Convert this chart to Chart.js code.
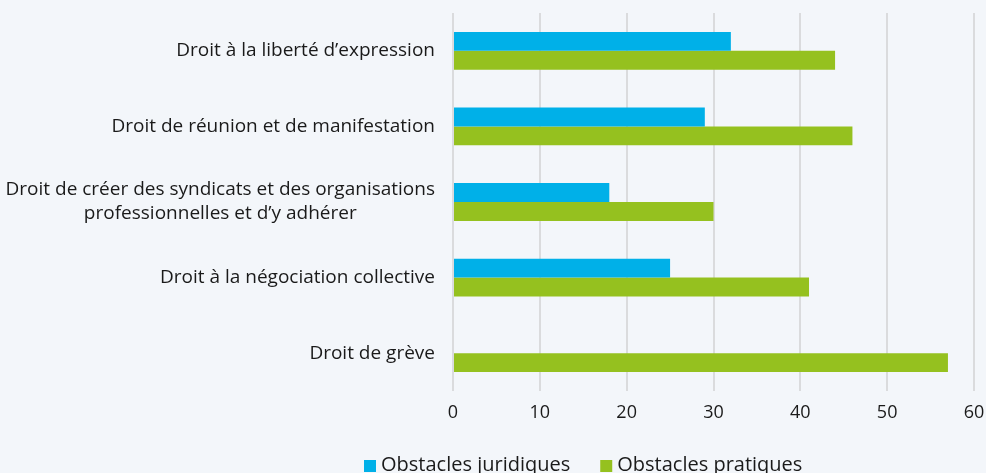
<!DOCTYPE html>
<html>
<head>
<meta charset="utf-8">
<script src="https://cdn.jsdelivr.net/npm/chart.js@4"></script>
<style>
  html, body { margin: 0; padding: 0; background: #f3f6fa; }
  #wrap { width: 986px; height: 473px; position: relative; }
</style>
</head>
<body>
<div id="wrap"><canvas id="c" width="986" height="473"></canvas></div>
<script>
const categories = [
  "Droit à la liberté d’expression",
  "Droit de réunion et de manifestation",
  ["Droit de créer des syndicats et des organisations", "professionnelles et d’y adhérer"],
  "Droit à la négociation collective",
  "Droit de grève"
];
const seriesNames = ["Obstacles juridiques", "Obstacles pratiques"];
const juridiques = [32, 29, 18, 25, 0];
const pratiques = [44, 46, 30, 41, 57];
const xTicks = [0, 10, 20, 30, 40, 50, 60];
const colors = ['#00b0e8', '#95c11f'];

const FONT = "'Open Sans', 'Noto Sans', sans-serif";
const TEXT = "#1a1a1a";

const bgPlugin = {
  id: 'bg',
  beforeDraw(chart) {
    const ctx = chart.ctx;
    ctx.save();
    ctx.fillStyle = '#f3f6fa';
    ctx.fillRect(0, 0, chart.width, chart.height);
    ctx.restore();
  }
};

const yLabelPlugin = {
  id: 'ylabels',
  afterDraw(chart) {
    const scale = chart.scales.y;
    const ctx = chart.ctx;
    ctx.save();
    ctx.font = "19px " + FONT;
    ctx.fillStyle = TEXT;
    ctx.textBaseline = 'middle';
    const right = chart.chartArea.left - 18;
    const lh = 24;
    chart.data.labels.forEach((lab, i) => {
      const y = scale.getPixelForTick(i);
      const lines = Array.isArray(lab) ? lab : [lab];
      if (lines.length === 1) {
        ctx.textAlign = 'right';
        ctx.fillText(lines[0], right, y);
      } else {
        const maxW = Math.max(...lines.map(l => ctx.measureText(l).width));
        const cx = right - maxW / 2;
        ctx.textAlign = 'center';
        const top = y - (lines.length - 1) * lh / 2;
        lines.forEach((l, k) => ctx.fillText(l, cx, top + k * lh));
      }
    });
    ctx.restore();
  }
};

const legendPlugin = {
  id: 'customLegend',
  afterDraw(chart) {
    const ctx = chart.ctx;
    ctx.save();
    ctx.font = "20px " + FONT;
    ctx.textBaseline = 'middle';
    ctx.textAlign = 'left';
    let x = 364;
    const y = 465;
    chart.data.datasets.forEach((ds, i) => {
      ctx.fillStyle = ds.backgroundColor;
      ctx.fillRect(x, y - 5, 12, 12);
      ctx.fillStyle = TEXT;
      ctx.fillText(ds.label, x + 17, y);
      x += 17 + ctx.measureText(ds.label).width + 30;
    });
    ctx.restore();
  }
};

new Chart(document.getElementById('c'), {
  type: 'bar',
  data: {
    labels: categories,
    datasets: [
      { label: seriesNames[0], data: juridiques, backgroundColor: colors[0], borderWidth: 0 },
      { label: seriesNames[1], data: pratiques, backgroundColor: colors[1], borderWidth: 0 }
    ]
  },
  options: {
    indexAxis: 'y',
    responsive: false,
    animation: false,
    layout: { padding: { top: 13, right: 0, left: 0, bottom: 42 } },
    datasets: { bar: { categoryPercentage: 0.5, barPercentage: 1.0 } },
    scales: {
      x: {
        min: 0, max: 60,
        afterBuildTicks(scale) { scale.ticks = xTicks.map(v => ({ value: v })); },
        grid: { color: '#dadbdd', lineWidth: 2, drawTicks: false },
        border: { display: false },
        ticks: { color: TEXT, font: { family: FONT, size: 18 }, padding: 11 },
        afterFit(scale) { scale.height = 40; scale.paddingLeft = 0; scale.paddingRight = 12; }
      },
      y: {
        grid: { display: false },
        border: { display: false },
        ticks: { color: 'transparent', font: { family: FONT, size: 12 } },
        afterFit(scale) { scale.width = 453; }
      }
    },
    plugins: {
      legend: { display: false },
      tooltip: { enabled: false }
    }
  },
  plugins: [bgPlugin, yLabelPlugin, legendPlugin]
});
</script>
</body>
</html>
